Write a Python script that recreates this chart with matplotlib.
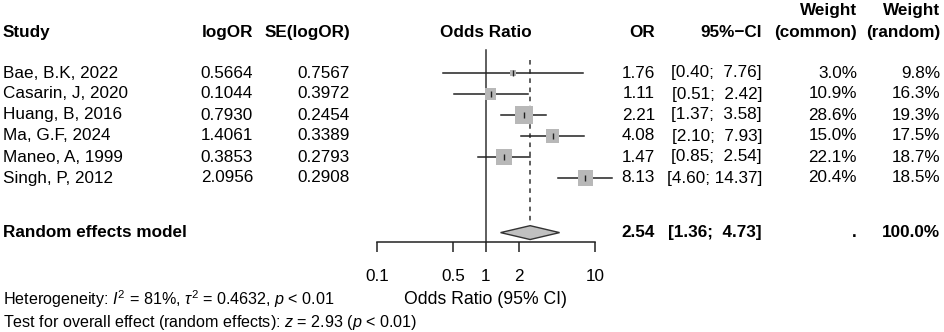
import matplotlib
matplotlib.use("Agg")
import matplotlib.pyplot as plt
from matplotlib import transforms

plt.rcParams['font.family'] = ['Liberation Sans', 'DejaVu Sans']
plt.rcParams['font.size'] = 12.3
plt.rcParams['mathtext.fontset'] = 'custom'
plt.rcParams['mathtext.rm'] = 'Liberation Sans'
plt.rcParams['mathtext.it'] = 'Liberation Sans:italic'

# data
studies = ["Bae, B.K, 2022", "Casarin, J, 2020", "Huang, B, 2016",
           "Ma, G.F, 2024", "Maneo, A, 1999", "Singh, P, 2012"]
log_or = [0.5664, 0.1044, 0.7930, 1.4061, 0.3853, 2.0956]
se_log_or = [0.7567, 0.3972, 0.2454, 0.3389, 0.2793, 0.2908]
odds = [1.76, 1.11, 2.21, 4.08, 1.47, 8.13]
ci_low = [0.40, 0.51, 1.37, 2.10, 0.85, 4.60]
ci_high = [7.76, 2.42, 3.58, 7.93, 2.54, 14.37]
w_common = [3.0, 10.9, 28.6, 15.0, 22.1, 20.4]
w_random = [9.8, 16.3, 19.3, 17.5, 18.7, 18.5]
pooled_or = 2.54
pooled_low = 1.36
pooled_high = 4.73
xticks = [0.1, 0.5, 1, 2, 10]

rows = [1, 2, 3, 4, 5, 6]
pooled_row = 8.6
head_row = -0.95
head_row2 = -2.0

W, H = 944, 332
fig = plt.figure(figsize=(W / 100, H / 100), dpi=100)
# axes: x from 0.1 to 10 (px 377..595), y bottom at axis line px 242
ax = fig.add_axes([377 / W, 1 - 242 / H, 218 / W, 242 / H])
ax.set_xscale('log')
ax.set_xlim(0.1, 10)
ax.set_ylim(1 + (242 - 73) / 21, 1 - 73 / 21)
for s in ['top', 'left', 'right']:
    ax.spines[s].set_visible(False)
ax.spines['bottom'].set_linewidth(1.1)
ax.spines['bottom'].set_color('#222222')
ax.set_yticks([])
ax.set_xticks(xticks)
ax.set_xticklabels(["0.1", "0.5", "1", "2", "10"])
ax.minorticks_off()
ax.tick_params(axis='x', direction='out', length=7.5, width=1.1,
               color='#222222', pad=12)
ax.patch.set_visible(False)

# reference line and pooled dashed line
ax.plot([1, 1], [-0.1, ax.get_ylim()[0]], color='#333333', lw=1.1, clip_on=False)
ax.plot([pooled_or, pooled_or], [0.38, pooled_row - 0.35], color='#333333',
        lw=1.1, ls=(0, (3, 3)), clip_on=False)

# study CIs, squares, point ticks
for r, o, lo, hi, w in zip(rows, odds, ci_low, ci_high, w_common):
    ax.plot([lo, hi], [r, r], color='#222222', lw=1.1, clip_on=False, zorder=2)
    ax.scatter([o], [r], marker='s', s=168 * w / 28.6, color='#b8b8b8',
               edgecolors='none', zorder=3, clip_on=False)
    ax.plot([o], [r], marker='|', ms=4.5, mew=1.0, color='#222222', zorder=4,
            clip_on=False)

# pooled diamond
ax.fill([pooled_low, pooled_or, pooled_high, pooled_or],
        [pooled_row, pooled_row - 0.33, pooled_row, pooled_row + 0.33],
        facecolor='#c0c0c0', edgecolor='#333333', lw=1.0, zorder=3, clip_on=False)

# text columns
tr = transforms.blended_transform_factory(fig.transFigure, ax.transData)
def col(px):
    return px / W

hb = dict(fontweight='bold', va='center', transform=tr)
fig.text(col(3), head_row, "Study", ha='left', **hb)
fig.text(col(253), head_row, "logOR", ha='right', **hb)
fig.text(col(350), head_row, "SE(logOR)", ha='right', **hb)
fig.text(col(486), head_row, "Odds Ratio", ha='center', **hb)
fig.text(col(655), head_row, "OR", ha='right', **hb)
fig.text(col(762), head_row, "95%\u2212CI", ha='right', **hb)
fig.text(col(857), head_row2, "Weight", ha='right', **hb)
fig.text(col(857), head_row, "(common)", ha='right', **hb)
fig.text(col(940), head_row2, "Weight", ha='right', **hb)
fig.text(col(940), head_row, "(random)", ha='right', **hb)

nb = dict(va='center', transform=tr)
for i, r in enumerate(rows):
    fig.text(col(3), r, studies[i], ha='left', **nb)
    fig.text(col(253), r, f"{log_or[i]:.4f}", ha='right', **nb)
    fig.text(col(350), r, f"{se_log_or[i]:.4f}", ha='right', **nb)
    fig.text(col(655), r, f"{odds[i]:.2f}", ha='right', **nb)
    fig.text(col(762), r, f"[{ci_low[i]:.2f}; {ci_high[i]:5.2f}]", ha='right', **nb)
    fig.text(col(857), r, f"{w_common[i]:.1f}%", ha='right', **nb)
    fig.text(col(940), r, f"{w_random[i]:.1f}%", ha='right', **nb)

fig.text(col(3), pooled_row, "Random effects model", ha='left', **hb)
fig.text(col(655), pooled_row, f"{pooled_or:.2f}", ha='right', **hb)
fig.text(col(762), pooled_row, f"[{pooled_low:.2f}; {pooled_high:5.2f}]", ha='right', **hb)
fig.text(col(857), pooled_row, ".", ha='right', **hb)
fig.text(col(940), pooled_row, "100.0%", ha='right', **hb)

# bottom texts
fig.text(col(486), 1 - 300 / H, "Odds Ratio (95% CI)", ha='center', va='center',
         fontsize=12.7)
fig.text(col(3), 1 - 299 / H,
         r"Heterogeneity: $\mathit{I}^2$ = 81%, $\tau^2$ = 0.4632, $\mathit{p}$ < 0.01",
         ha='left', va='center', fontsize=11.6)
fig.text(col(3), 1 - 323 / H,
         r"Test for overall effect (random effects): $\mathit{z}$ = 2.93 ($\mathit{p}$ < 0.01)",
         ha='left', va='center', fontsize=11.6)

fig.savefig("out.png", dpi=100)
